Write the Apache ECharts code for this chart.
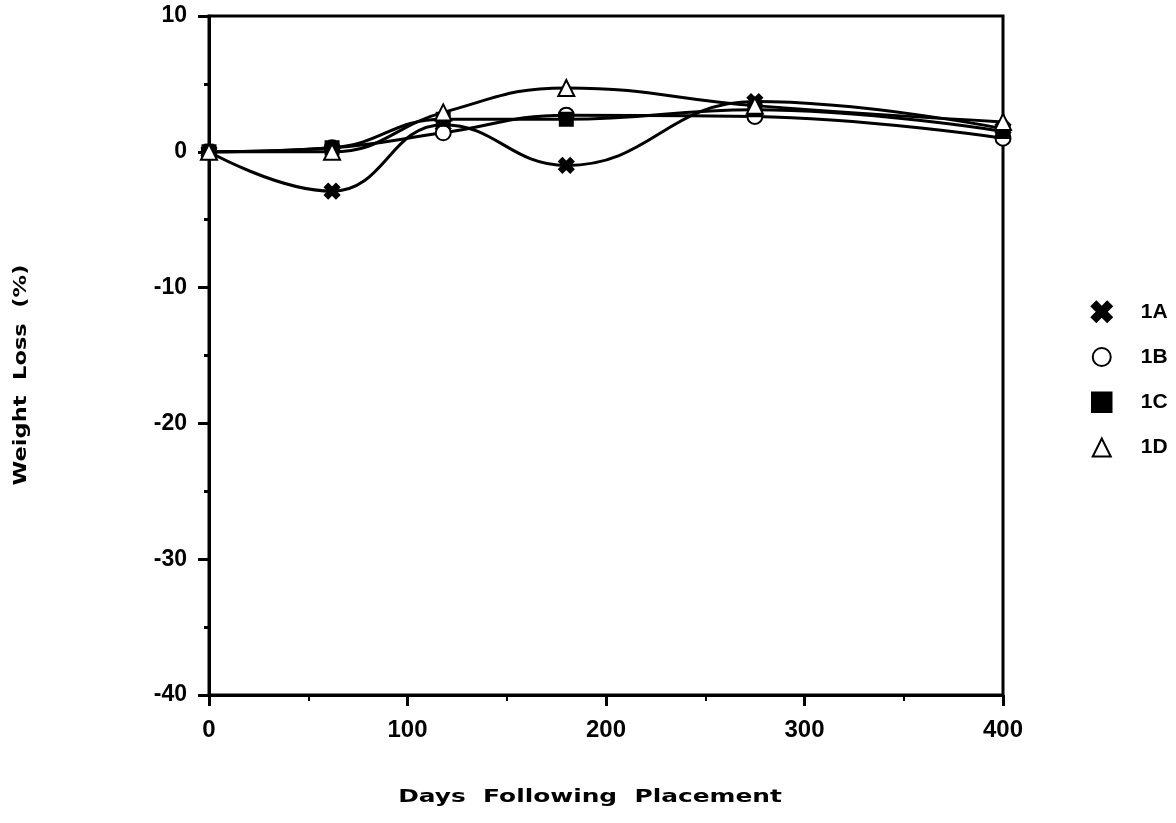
<!DOCTYPE html>
<html>
<head>
<meta charset="utf-8">
<script src="https://cdn.jsdelivr.net/npm/echarts@6/dist/echarts.min.js"></script>
<style>
html,body{margin:0;padding:0;background:#fff;}
#chart{width:1176px;height:823px;}
</style>
</head>
<body>
<div id="chart"></div>
<script>
// ---- data ----
const days = [0, 62, 118, 180, 275, 400];
const s1A = [0, -2.9, 2.0, -1.0, 3.7, 1.7];
const s1B = [0, 0.3, 1.4, 2.7, 2.6, 1.0];
const s1C = [0, 0.3, 2.4, 2.4, 3.1, 1.5];
const s1D = [0, 0.0, 2.9, 4.7, 3.4, 2.2];
const seriesNames = ['1A', '1B', '1C', '1D'];
const xTicks = [0, 100, 200, 300, 400];
const yTicks = [-40, -30, -20, -10, 0, 10];
const xTitle = 'Days  Following  Placement';
const yTitle = 'Weight  Loss  (%)';

const FONT = 'Liberation Sans';
const crossPath = 'path://M2,0 L5,3 L8,0 L10,2 L7,5 L10,8 L8,10 L5,7 L2,10 L0,8 L3,5 L0,2 Z';
const symbols = [crossPath, 'emptyCircle', 'rect', 'emptyTriangle'];
const sizes = [13, 15, 12, 16];
const values = [s1A, s1B, s1C, s1D];

const chart = echarts.init(document.getElementById('chart'), null, {renderer: 'canvas'});

const series = seriesNames.map((name, i) => ({
  name: name,
  type: 'line',
  smooth: 0.45,
  data: days.map((d, j) => [d, values[i][j]]),
  symbol: symbols[i],
  symbolSize: sizes[i],
  showAllSymbol: true,
  lineStyle: {color: '#000', width: 3},
  itemStyle: {color: '#000', borderColor: '#000', borderWidth: 3},
  z: 3 + i
}));

chart.setOption({
  animation: false,
  backgroundColor: '#fff',
  grid: {
    left: 209, right: 173, top: 16, bottom: 128,
    show: true, borderColor: '#000', borderWidth: 3, backgroundColor: 'transparent'
  },
  xAxis: {
    type: 'value', min: xTicks[0], max: xTicks[xTicks.length - 1], interval: 100,
    axisLine: {show: true, onZero: false, lineStyle: {color: '#000', width: 3}},
    axisTick: {show: true, inside: false, length: 11, lineStyle: {color: '#000', width: 3}},
    minorTick: {show: true, splitNumber: 2, length: 6, lineStyle: {color: '#000', width: 2}},
    splitLine: {show: false},
    axisLabel: {color: '#000', fontFamily: FONT, fontWeight: 'bold', fontSize: 24, margin: 23}
  },
  yAxis: {
    type: 'value', min: yTicks[0], max: yTicks[yTicks.length - 1], interval: 10,
    axisLine: {show: true, onZero: false, lineStyle: {color: '#000', width: 3}},
    axisTick: {show: true, inside: false, length: 11, lineStyle: {color: '#000', width: 3}},
    minorTick: {show: true, splitNumber: 2, length: 5, lineStyle: {color: '#000', width: 3}},
    splitLine: {show: false},
    axisLabel: {color: '#000', fontFamily: FONT, fontWeight: 'bold', fontSize: 23, margin: 22}
  },
  legend: {
    orient: 'vertical',
    left: 1086, top: 296,
    itemWidth: 18, itemHeight: 18, itemGap: 24,
    data: seriesNames.map((n, i) => ({name: n, icon: symbols[i]})),
    lineStyle: {opacity: 0},
    itemStyle: {color: '#000', borderColor: '#000', borderWidth: 3.5},
    textStyle: {color: '#000', fontFamily: FONT, fontWeight: 'bold', fontSize: 21, padding: [0, 0, 0, 25]},
    selectedMode: false
  },
  graphic: [
    {
      type: 'text',
      position: [590, 797],
      style: {text: xTitle, fill: '#000', font: 'bold 18px "DejaVu Sans"', textAlign: 'center', textVerticalAlign: 'middle'},
      scaleX: 1.38
    },
    {
      type: 'text',
      position: [21, 375], rotation: Math.PI / 2,
      style: {text: yTitle, fill: '#000', font: 'bold 18px "DejaVu Sans"', textAlign: 'center', textVerticalAlign: 'middle'},
      scaleX: 1.25
    }
  ],
  series: series
});
</script>
</body>
</html>
